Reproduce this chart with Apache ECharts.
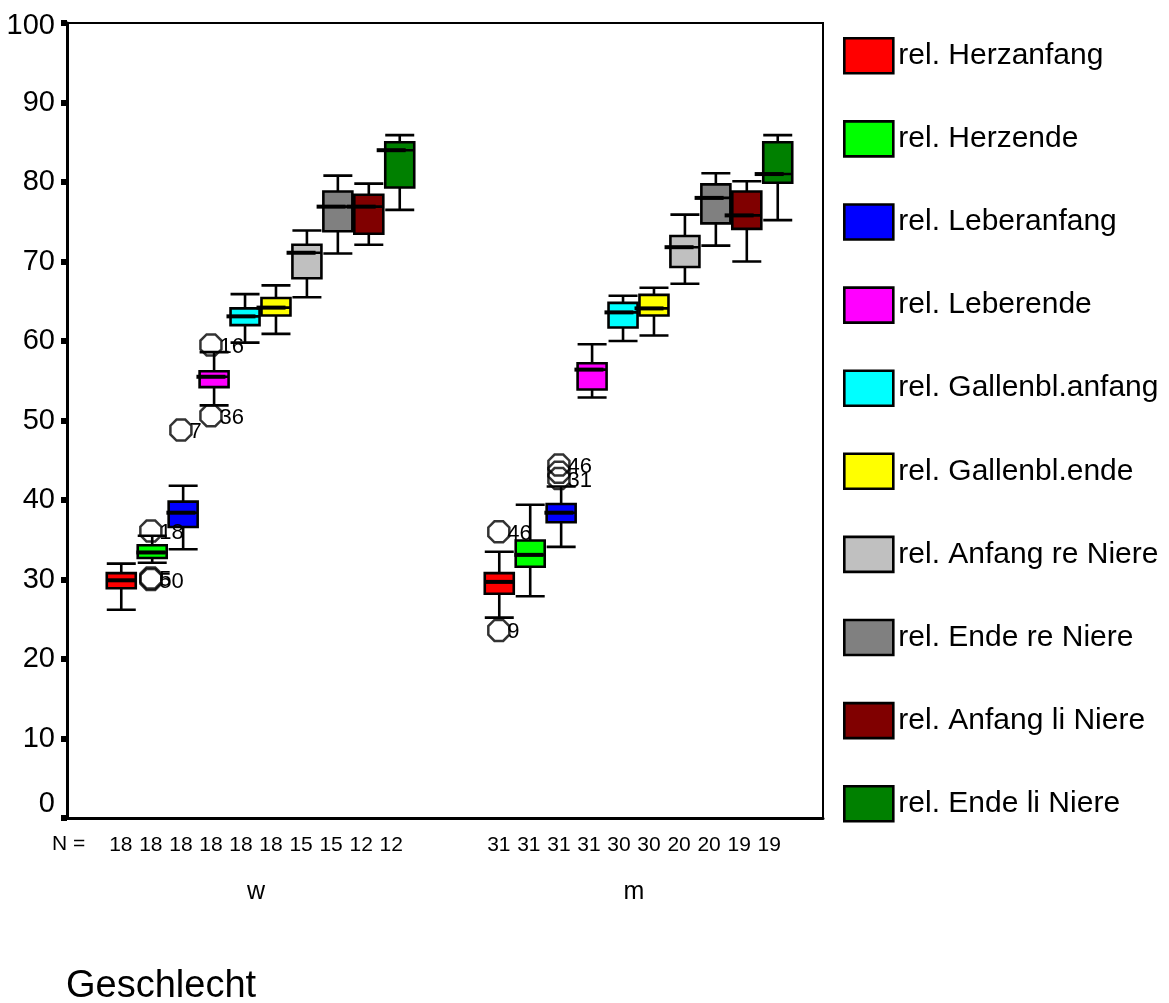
<!DOCTYPE html>
<html><head><meta charset="utf-8">
<script src="https://cdn.jsdelivr.net/npm/echarts@6/dist/echarts.min.js"></script>
<style>html,body{margin:0;padding:0;background:#fff}#c{width:1169px;height:1003px}</style>
</head><body><div id="c"></div>
<script>
// ---------- data ----------
const categories = ['w', 'm'];
const seriesNames = ['rel. Herzanfang', 'rel. Herzende', 'rel. Leberanfang', 'rel. Leberende',
  'rel. Gallenbl.anfang', 'rel. Gallenbl.ende', 'rel. Anfang re Niere', 'rel. Ende re Niere',
  'rel. Anfang li Niere', 'rel. Ende li Niere'];
// [min, Q1, median, Q3, max] for w, m
const herzanfang     = [[26.2, 28.9, 29.9, 30.8, 32.0], [25.2, 28.2, 29.7, 30.8, 33.5]];
const herzende       = [[32.1, 32.7, 33.4, 34.3, 35.5], [27.9, 31.6, 33.1, 34.9, 39.4]];
const leberanfang    = [[33.8, 36.6, 38.4, 39.8, 41.8], [34.1, 37.2, 38.4, 39.5, 41.7]];
const leberende      = [[51.9, 54.2, 55.5, 56.2, 58.6], [52.9, 53.9, 56.4, 57.2, 59.6]];
const gallenAnfang   = [[59.8, 62.0, 63.1, 64.1, 65.9], [60.0, 61.7, 63.6, 64.8, 65.7]];
const gallenEnde     = [[60.9, 63.2, 64.2, 65.4, 67.0], [60.7, 63.2, 64.1, 65.8, 66.7]];
const anfangReNiere  = [[65.5, 67.9, 71.1, 72.1, 73.9], [67.2, 69.3, 71.8, 73.2, 75.9]];
const endeReNiere    = [[71.0, 73.8, 76.9, 78.8, 80.8], [72.0, 74.8, 78.0, 79.7, 81.1]];
const anfangLiNiere  = [[72.1, 73.5, 76.9, 78.4, 79.8], [70.0, 74.1, 75.8, 78.8, 80.1]];
const endeLiNiere    = [[76.5, 79.3, 84.0, 85.0, 85.9], [75.2, 79.9, 81.0, 85.0, 85.9]];
const boxData = [herzanfang, herzende, leberanfang, leberende, gallenAnfang, gallenEnde,
  anfangReNiere, endeReNiere, anfangLiNiere, endeLiNiere];
// [category index, series index, value, case label]
const outliers = [
  [0, 1, 36.1, '18'], [0, 1, 30.2, '5'], [0, 1, 30.0, '50'],
  [0, 2, 48.8, '7'],
  [0, 3, 59.5, '16'], [0, 3, 50.6, '36'],
  [1, 0, 36.0, '46'], [1, 0, 23.6, '9'],
  [1, 2, 44.4, '46'], [1, 2, 43.5, ''], [1, 2, 42.7, '31']
];
const nW = [18, 18, 18, 18, 18, 18, 15, 15, 12, 12];
const nM = [31, 31, 31, 31, 30, 30, 20, 20, 19, 19];
const nCounts = [nW, nM];
const yTicks = [0, 100, 10];

// ---------- styles / layout ----------
const colors = ['#ff0000', '#00ff00', '#0000ff', '#ff00ff', '#00ffff', '#ffff00', '#c0c0c0', '#808080', '#800000', '#008000'];
const FONT = 'Liberation Sans, Arial, sans-serif';
const GL = 67, GT = 23, GW = 756, GH = 795;
const band = GW / categories.length;
const avail = band * 0.8 - 2;
const step = avail / seriesNames.length;
const shift = step * 0.3 / 2;
function xPos(c, k) { return c + 0.5 + (k - (seriesNames.length - 1) / 2) * step / band; }
const octagon = 'path://M2.93,0 L7.07,0 L10,2.93 L10,7.07 L7.07,10 L2.93,10 L0,7.07 L0,2.93 Z';

const series = [];
seriesNames.forEach((name, k) => {
  series.push({
    name, type: 'boxplot', xAxisIndex: 2, yAxisIndex: 1,
    boxWidth: [29, 29],
    itemStyle: { color: colors[k], borderColor: '#000', borderWidth: 2.6 },
    emphasis: { disabled: true },
    data: categories.map((c, ci) => boxData[k][ci])
  });
});
const medians = [];
const nData = [];
categories.forEach((c, ci) => {
  seriesNames.forEach((n, k) => {
    medians.push([xPos(ci, k), boxData[k][ci][2]]);
    nData.push([xPos(ci, k), 0, nCounts[ci][k]]);
  });
});
series.push({
  type: 'custom', xAxisIndex: 1, yAxisIndex: 0, silent: true, z: 5,
  data: medians,
  renderItem(params, api) {
    const p = api.coord([api.value(0), api.value(1)]);
    return { type: 'line', shape: { x1: p[0] - 14.5, y1: p[1], x2: p[0] + 14.5, y2: p[1] },
      style: { stroke: '#000', lineWidth: 4 } };
  }
});
series.push({
  type: 'custom', xAxisIndex: 1, yAxisIndex: 0, silent: true, clip: false,
  data: nData,
  renderItem(params, api) {
    const p = api.coord([api.value(0), api.value(1)]);
    return { type: 'text', x: p[0], y: p[1] + 27.5,
      style: { text: String(api.value(2)), font: '21px ' + FONT, fill: '#000', align: 'center', verticalAlign: 'middle' } };
  }
});
series.push({
  type: 'scatter', xAxisIndex: 1, yAxisIndex: 0, z: 6, silent: true,
  symbol: octagon, symbolSize: 21,
  itemStyle: { color: 'rgba(255,255,255,0)', borderColor: '#000', borderWidth: 2.5 },
  data: outliers.map(o => [xPos(o[0], o[1]), o[2]])
});
// outlier case labels
series.push({
  type: 'custom', xAxisIndex: 1, yAxisIndex: 0, silent: true, z: 7,
  data: outliers.map(o => [xPos(o[0], o[1]), o[2]]),
  renderItem(params, api) {
    const p = api.coord([api.value(0), api.value(1)]);
    return { type: 'text', x: p[0] + 8.5, y: p[1] + 2,
      style: { text: outliers[params.dataIndex][3], font: '22px ' + FONT, fill: '#000', align: 'left', verticalAlign: 'middle' } };
  }
});

const option = {
  animation: false,
  backgroundColor: '#fff',
  textStyle: { fontFamily: FONT },
  grid: [
    { left: GL, top: GT, width: GW, height: GH, show: true, borderColor: '#000', borderWidth: 2, backgroundColor: 'transparent', containLabel: false },
    { left: GL + shift, top: GT, width: GW, height: GH, containLabel: false }
  ],
  xAxis: [
    { type: 'category', gridIndex: 0, data: categories,
      axisLine: { lineStyle: { color: '#000', width: 3 } },
      axisTick: { alignWithLabel: true, length: 6, lineStyle: { color: '#000', width: 6 } },
      axisLabel: { margin: 62, fontSize: 25, color: '#000', fontFamily: FONT } },
    { type: 'value', gridIndex: 0, min: 0, max: categories.length, show: false },
    { type: 'category', gridIndex: 1, data: categories, show: false }
  ],
  yAxis: [
    { type: 'value', gridIndex: 0, min: yTicks[0], max: yTicks[1], interval: yTicks[2],
      splitLine: { show: false },
      axisLine: { show: true, lineStyle: { color: '#000', width: 3 } },
      axisTick: { show: true, length: 6, lineStyle: { color: '#000', width: 6 } },
      axisLabel: { margin: 12, fontSize: 29, color: '#000', fontFamily: FONT,
        formatter: v => v === 0 ? '{lo|0}' : (v === 100 ? '{hi|100}' : String(v)),
        rich: { lo: { fontSize: 29, fontFamily: FONT, color: '#000', padding: [0, 0, 28, 0] },
                hi: { fontSize: 29, fontFamily: FONT, color: '#000', padding: [6, 0, 0, 0] } } } },
    { type: 'value', gridIndex: 1, min: yTicks[0], max: yTicks[1], show: false }
  ],
  legend: {
    orient: 'vertical', left: 843, top: 37, padding: 0, itemWidth: 49, itemHeight: 35, itemGap: 45.5,
    icon: 'rect', selectedMode: false,
    textStyle: { fontSize: 30, color: '#000', fontFamily: FONT },
    data: seriesNames.map((n, k) => ({ name: n, itemStyle: { color: colors[k], borderColor: '#000', borderWidth: 2.6 } }))
  },
  graphic: [
    { type: 'text', left: 52, top: 834, style: { text: 'N =', font: '21px ' + FONT, fill: '#000' } },
    { type: 'text', left: 66, top: 968, style: { text: 'Geschlecht', font: '38px ' + FONT, fill: '#000' } }
  ],
  series
};
const chart = echarts.init(document.getElementById('c'), null, { renderer: 'canvas' });
chart.setOption(option);
</script></body></html>
